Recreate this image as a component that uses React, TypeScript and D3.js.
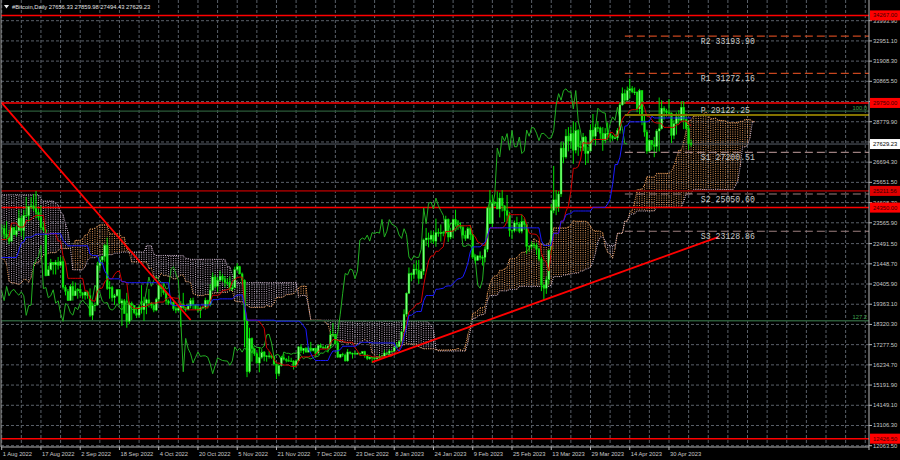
import React from 'react';
import * as d3 from 'd3';

// daily bars, first one on 16 May 2022 (needed for the Ichimoku warm-up)
const firstBar = '2022-05-16';
const firstOpen = 31300;

const closes = [
  29860, 30420, 28720, 30300, 29200, 29430, 30290, 29100, 29650, 29540, 29200, 28630, 29030, 29470, 31730, 31800,
  29800, 30450, 29700, 29860, 29900, 31370, 31130, 30200, 30110, 29080, 28400, 26570, 22490, 22140, 22570, 20380, 20470, 19000, 20550, 20700, 20720, 19980, 21100, 21230, 21500, 21030, 20740, 20260, 20100, 19930,
  19280, 19300, 19310, 20210, 20180, 20550, 21620, 21590, 21580, 20850, 19960, 19330, 20220, 20590, 20830, 21190, 20800, 22430, 23410, 23220, 23160, 22680, 22450, 22580, 21300, 21250, 22950, 23850, 23780, 23640, 23300,
  23270, 22980, 22820, 22620, 23310, 22950, 23170, 23810, 23160, 23950, 23940, 24400, 24440, 24300, 24100, 23850, 23340, 23200, 20830, 21140, 21520, 21400, 21530, 21370, 21560, 20240, 20030, 19550, 20280, 19800, 20050,
  20130, 19950, 19830, 20000, 19800, 18790, 19290, 19320, 21360, 21650, 21830, 22400, 20170, 20230, 19700, 19800, 20110, 19420, 19540, 18880, 18480, 19400, 19300, 18920, 18800, 19220, 19080, 19420, 19590, 19420,
  19310, 19060, 19620, 20340, 20160, 19960, 19530, 19420, 19450, 19130, 19060, 19150, 19380, 19180, 19070, 19270, 19550, 19330, 19130, 19040, 19170, 19210, 19570, 19330, 20090, 20770, 20290, 20600, 20810, 20630, 20490,
  20480, 20150, 20210, 21150, 21300, 20930, 20600, 18550, 15880, 17600, 17070, 16810, 16330, 16620, 16900, 16670, 16700, 16700, 16630, 16280, 15780, 16200, 16600, 16520, 16460, 16440, 16430, 16210, 16440, 17160,
  16970, 17090, 16890, 17110, 16970, 17090, 16840, 17230, 17130, 17130, 17090, 17210, 17780, 17810, 17360, 16630, 16780, 16740, 16440, 16900, 16830, 16830, 16780, 16840, 16830, 16920, 16700, 16550, 16630, 16600, 16540,
  16610, 16680, 16670, 16850, 16830, 16950, 16940, 17120, 17180, 17440, 17940, 18850, 19930, 20950, 20880, 21180, 21130, 20680, 21070, 22680, 22780, 22710, 22930, 22620, 23060, 23010, 23080, 23030, 23740, 22830, 23130,
  23730, 23490, 23430, 23330, 22930, 22760, 23260, 22960, 21800, 21630, 21860, 21780, 21780, 22200, 24330, 23520, 24570, 24630, 24280, 24840, 24440, 24190, 23950, 23180, 23160, 23560, 23490, 23130,
  23640, 23470, 22360, 22350, 22430, 22410, 22200, 21700, 20360, 20190, 20620, 22150, 24200, 24750, 24390, 25050, 27420, 26960, 28040, 27780, 28170, 27310, 28330, 27490, 27490, 27990, 27140, 27270, 28350, 28030, 28480,
  28460, 28190, 27810, 28170, 28180, 28040, 27920, 27950, 28330, 29650, 30230, 29890, 30390, 30480, 30320, 30320, 29440, 30390, 28820, 28250, 27270, 27820, 27590, 27510, 28300, 28420, 29480, 29340, 29250, 29230,
  28070, 28680, 29030, 28850, 29530, 28900, 28430, 27656, 27629.23,
];

const highs = [
  31300, 30700, 30650, 30530, 30760, 29600, 30480, 30650, 29840, 30200, 29850, 29370, 29200, 29560, 31950, 32400,
  31980, 30650, 30680, 29950, 30150, 31750, 31550, 31330, 30650, 30350, 29420, 28580, 26880, 23300, 22700, 22950, 21340, 20800, 20800, 21050, 21720, 20860, 21200, 21560, 21570, 21820, 21500, 21170, 20400, 20150,
  20870, 19420, 19640, 20300, 20700, 20650, 21800, 22500, 21950, 21600, 20880, 20030, 20250, 20880, 21180, 21570, 21650, 22720, 23770, 24280, 23420, 23750, 22990, 22980, 22660, 21350, 23100, 24200, 24450, 24650, 24190,
  23500, 23450, 23650, 23200, 23450, 23350, 23400, 24240, 23930, 24230, 24900, 24450, 24880, 25050, 25210, 24250, 24450, 23600, 23200, 21350, 21700, 21520, 21650, 21800, 21800, 21850, 20350, 20150, 20400, 20550, 20480,
  20200, 20440, 20000, 20000, 20050, 20180, 19450, 19450, 21550, 21800, 21850, 22480, 22800, 20550, 20320, 19900, 20150, 20120, 19650, 19630, 19950, 19500, 19500, 19320, 19200, 19300, 20350, 19750, 19650, 20150,
  19480, 19400, 19700, 20450, 20350, 20450, 20050, 19600, 19550, 19520, 19250, 19220, 19520, 19950, 19230, 19400, 19680, 19700, 19350, 19350, 19250, 19250, 19700, 19600, 20400, 21000, 20870, 20750, 21080, 20930, 20820,
  20700, 20800, 20400, 21300, 21480, 21350, 21000, 20650, 18600, 18150, 17650, 17080, 16880, 17150, 17050, 16950, 16740, 16950, 16800, 16700, 16300, 16250, 16700, 16800, 16590, 16700, 16600, 16480, 16520, 17200,
  17300, 17100, 17150, 17200, 17420, 17100, 17130, 17300, 17340, 17230, 17260, 17240, 18000, 18400, 17850, 17530, 16800, 16860, 16820, 17050, 16920, 16870, 16950, 16870, 16860, 16930, 16960, 16780, 16660, 16650, 16640,
  16630, 16780, 16760, 16990, 16880, 17040, 16960, 17150, 17390, 17490, 17990, 19100, 19970, 21260, 21000, 21450, 21630, 21650, 21190, 22750, 23300, 23060, 23170, 23120, 23780, 23280, 23480, 23160, 23930, 23790, 23310,
  23800, 24240, 23710, 23590, 23440, 23160, 23350, 23450, 22990, 21940, 21890, 22090, 21890, 22320, 24380, 25250, 25020, 24700, 25190, 25120, 25250, 24470, 25000, 24130, 23220, 23680, 23880, 23600,
  24000, 23790, 23480, 22420, 22600, 22550, 22530, 22270, 21800, 20370, 20800, 22200, 24550, 26500, 25250, 25200, 27750, 27720, 28400, 28500, 28500, 28800, 28750, 28400, 27800, 28200, 28050, 27500, 28650, 29180, 28650,
  28800, 28530, 28500, 28450, 28750, 28200, 28100, 28150, 28450, 29770, 30550, 30450, 30600, 31000, 30620, 30550, 30320, 30480, 30400, 29100, 28370, 27870, 27820, 28000, 28400, 30030, 29890, 29580, 29450, 29950,
  29260, 28880, 29260, 29380, 29850, 29830, 29200, 28630, 27859.98,
];

const lows = [
  29100, 29450, 28700, 28680, 28730, 28950, 29240, 28880, 28560, 29300, 28020, 28270, 28500, 28800, 29300, 31200,
  29300, 29580, 29300, 29500, 29500, 29880, 29220, 29850, 29950, 28850, 28100, 26560, 22400, 20850, 20080, 20250, 20250, 17620, 17950, 19650, 20400, 19800, 19900, 20750, 20960, 21000, 20550, 20170, 19850, 18630,
  19000, 18990, 18780, 19070, 19300, 19770, 20250, 21200, 21320, 20650, 19900, 19250, 18900, 19620, 20400, 20500, 20760, 20760, 21600, 23000, 22350, 22550, 22000, 22270, 21250, 20750, 21050, 22600, 23450, 23500, 23250,
  22850, 22670, 22700, 22450, 22600, 22950, 22850, 23150, 22870, 22680, 23850, 23600, 24300, 24170, 23800, 23700, 23200, 23100, 20800, 20850, 21100, 20900, 20900, 21150, 21320, 20120, 19820, 19550, 19550, 19550, 19780,
  19650, 19770, 19650, 19600, 19650, 18700, 18550, 19000, 19300, 21100, 21400, 21560, 20100, 19650, 19500, 19330, 19750, 19350, 18250, 18900, 18150, 18350, 18550, 18850, 18650, 18680, 18880, 18500, 18850, 19200,
  19150, 18950, 19000, 19500, 19750, 19850, 19350, 19320, 19330, 19030, 18900, 18980, 18200, 19100, 18980, 19060, 19150, 19100, 19080, 18950, 18650, 19110, 19080, 19150, 19250, 20060, 20200, 20000, 20550, 20530, 20250,
  20350, 20080, 20050, 20180, 21080, 20900, 20400, 17150, 15600, 15800, 16400, 16700, 16300, 15850, 16550, 16420, 16400, 16560, 16550, 16200, 15500, 15650, 16150, 16460, 16360, 16400, 16400, 15990, 16110, 16430,
  16850, 16800, 16880, 16880, 16880, 16920, 16680, 16740, 17100, 17090, 17070, 16870, 17080, 17670, 17280, 16600, 16580, 16650, 16400, 16400, 16770, 16560, 16780, 16790, 16720, 16790, 16600, 16480, 16500, 16330, 16490,
  16500, 16550, 16600, 16650, 16750, 16690, 16900, 16910, 17100, 17150, 17310, 17910, 18720, 19890, 20550, 20650, 20900, 20410, 20660, 20870, 22370, 22300, 22520, 22470, 22330, 22850, 22600, 22870, 23010, 22580, 22720,
  22760, 23370, 23200, 23260, 22750, 22630, 22750, 22680, 21690, 21460, 21600, 21630, 21360, 21530, 22050, 23550, 23340, 24430, 24260, 23840, 24150, 23600, 23620, 22850, 22720, 23070, 23120, 23030,
  23020, 23200, 21970, 22080, 22200, 22260, 21920, 21580, 20040, 19550, 19900, 20390, 21900, 24060, 23960, 24130, 24900, 26640, 26880, 27250, 27370, 26610, 27150, 27020, 27250, 27400, 26550, 26650, 27250, 27720, 27550,
  28250, 27870, 27280, 27670, 27830, 27720, 27800, 27880, 27810, 28170, 29610, 29700, 29870, 29970, 30250, 30160, 29270, 29100, 28600, 28010, 27130, 27180, 27330, 26950, 27200, 27250, 28380, 28890, 29040, 29090,
  27680, 27880, 28120, 28680, 28820, 28400, 28380, 27330, 27494.43,
];

const titleOHLC = ['27656.33', '27859.98', '27494.43', '27629.23'];

const priceTicks = [
  '33993.90', '32951.10', '31908.30', '30865.50', '29822.70', '28779.90', '27737.10', '26694.30', '25651.50',
  '24608.70', '23565.90', '22491.50', '21448.70', '20405.90', '19363.10', '18320.30', '17277.50', '16234.70',
  '15191.90', '14149.10', '13106.30', '12063.50',
];

const timeTicks = [
  '2022-08-01', '2022-08-17', '2022-09-02', '2022-09-18', '2022-10-04', '2022-10-20', '2022-11-05', '2022-11-21',
  '2022-12-07', '2022-12-23', '2023-01-08', '2023-01-24', '2023-02-09', '2023-02-25', '2023-03-13', '2023-03-29',
  '2023-04-14', '2023-04-30',
];

const strongLevels = [34267, 29750, 24350, 12426.5];
const weakLevels = [25211.56];

const pivotNames = ['R2', 'R1', 'P', 'S1', 'S2', 'S3'];
const pivotValues = [33193.9, 31272.16, 29122.25, 27200.51, 25050.6, 23128.86];
const pivotStart = '2023-04-12';

const fiboNames = ['100.0', '127.2'];
const fiboValues = [29330, 18510];

const downTrendDates = ['2022-08-01', '2022-10-17'];
const downTrendPrices = [29750, 18550];
const upTrendDates = ['2022-12-30', '2023-05-20'];
const upTrendPrices = [16380, 22830];

const DAY = 864e5;
const PL = 1, PR = 869, PT = 0, PB = 447;

const App: React.FC = () => {
  const t0 = Date.parse(firstBar);
  const x = d3.scaleUtc()
    .domain([new Date(Date.parse('2022-08-01')), new Date(Date.parse('2023-04-30'))])
    .range([1.7, 669]);
  const y = d3.scaleLinear().domain([12063.5, 33993.9]).range([445.7, 20.7]);
  const xi = (i: number) => x(t0 + i * DAY);

  const bars = closes.map((c, i) => {
    const o = i ? closes[i - 1] : firstOpen;
    return { i, o, c, h: Math.max(highs[i], o, c), l: Math.min(lows[i], o, c) };
  });
  const n = bars.length;

  // Ichimoku 9/26/52
  const mid = (i: number, p: number) => {
    if (i < p - 1) return null;
    const s = bars.slice(i - p + 1, i + 1);
    return ((d3.max(s, b => b.h) as number) + (d3.min(s, b => b.l) as number)) / 2;
  };
  const tenkan = bars.map(b => mid(b.i, 9));
  const kijun = bars.map(b => mid(b.i, 26));
  const cloud: { i: number; a: number; b: number }[] = [];
  bars.forEach((b, i) => {
    const t = tenkan[i], k = kijun[i], s = mid(i, 52);
    if (t != null && k != null && s != null) cloud.push({ i: i + 26, a: (t + k) / 2, b: s });
  });
  const chikou = bars.map(b => ({ i: b.i - 26, v: b.c }));

  const lineOf = (pts: { i: number; v: number | null }[]) =>
    d3.line<{ i: number; v: number | null }>()
      .defined(d => d.v != null)
      .x(d => xi(d.i))
      .y(d => y(d.v as number))(pts) || '';

  const gridDays = d3.range(0, 46).map(k => Date.parse('2022-08-01') + k * 8 * DAY);
  const fmt = d3.utcFormat('%-d %b %Y');
  const gridColor = '#5a6069';
  const axisFont = { fontFamily: 'Liberation Sans, Arial, sans-serif', fontSize: 5.8, fill: '#c8c8c8' };
  const lastPrice = closes[n - 1];
  const px = x(Date.parse(pivotStart));

  // price labels hidden under the level boxes, as the terminal does
  const boxed = [...strongLevels, ...weakLevels, lastPrice];
  const visibleTicks = priceTicks.filter(t => boxed.every(v => Math.abs(y(v) - y(+t)) > 4));

  const trend = (dates: string[], prices: number[]) => (
    <line x1={x(Date.parse(dates[0]))} y1={y(prices[0])} x2={x(Date.parse(dates[1]))} y2={y(prices[1])}
      stroke="#ff0000" strokeWidth={1.8} />
  );

  return (
    <div>
      <style>{'html,body{margin:0;padding:0;background:#000;}'}</style>
      <svg width={900} height={460} style={{ display: 'block', background: '#000' }}>
        <defs>
          <clipPath id="plot"><rect x={PL} y={PT} width={PR - PL} height={PB - PT} /></clipPath>
        </defs>

        {/* grid */}
        {priceTicks.map(t => (
          <line key={'h' + t} x1={PL} x2={PR} y1={y(+t)} y2={y(+t)} stroke={gridColor} strokeDasharray="3,2" />
        ))}
        {gridDays.filter(d => x(d) < PR).map(d => (
          <line key={'v' + d} x1={x(d)} x2={x(d)} y1={PT} y2={PB} stroke={gridColor} strokeDasharray="3,2" />
        ))}

        <g clipPath="url(#plot)">
          {/* Kumo, dotted histogram */}
          {cloud.map(c => (
            <line key={'k' + c.i} x1={xi(c.i)} x2={xi(c.i)} y1={y(c.a)} y2={y(c.b)}
              stroke={c.a >= c.b ? '#f4a460' : '#d8bfd8'} strokeWidth={0.9} strokeDasharray="1,1.2" />
          ))}
          <path d={lineOf(cloud.map(c => ({ i: c.i, v: c.a })))} fill="none" stroke="#f4a460" strokeWidth={1} strokeDasharray="1,1.2" />
          <path d={lineOf(cloud.map(c => ({ i: c.i, v: c.b })))} fill="none" stroke="#d8bfd8" strokeWidth={1} strokeDasharray="1,1.2" />

          {/* horizontal levels */}
          {strongLevels.map(v => (
            <line key={'s' + v} x1={PL} x2={PR} y1={y(v)} y2={y(v)} stroke="#ff0000" strokeWidth={1.5} />
          ))}
          {weakLevels.map(v => (
            <line key={'w' + v} x1={PL} x2={PR} y1={y(v)} y2={y(v)} stroke="#8b0000" strokeWidth={1.8} />
          ))}
          {fiboValues.map((v, k) => (
            <g key={'f' + k}>
              <line x1={PL} x2={PR} y1={y(v)} y2={y(v)} stroke="#2b5a38" strokeWidth={1.4} />
              <text x={PR - 2} y={y(v) - 1.5} textAnchor="end" fontFamily="Liberation Sans, Arial, sans-serif"
                fontSize={5.8} fill="#3ea04e">{fiboNames[k]}</text>
            </g>
          ))}
          <line x1={PL} x2={PR} y1={y(lastPrice)} y2={y(lastPrice)} stroke="#5b626b" strokeWidth={1} />

          {/* chikou */}
          <path d={lineOf(chikou)} fill="none" stroke="#22b022" strokeWidth={1} />

          {/* candles */}
          {bars.filter(b => xi(b.i) > -4).map(b => {
            const cx = xi(b.i);
            const top = y(Math.max(b.o, b.c));
            const hgt = Math.max(0.8, Math.abs(y(b.o) - y(b.c)));
            return (
              <g key={'c' + b.i}>
                <line x1={cx} x2={cx} y1={y(b.h)} y2={y(b.l)} stroke="#00e000" strokeWidth={1} />
                <rect x={cx - 0.95} y={top} width={1.9} height={hgt}
                  fill={b.c >= b.o ? '#7dff7d' : '#19e619'} stroke="#00d800" strokeWidth={0.4} />
              </g>
            );
          })}

          {/* tenkan / kijun */}
          <path d={lineOf(tenkan.map((v, i) => ({ i, v })))} fill="none" stroke="#d00000" strokeWidth={1} />
          <path d={lineOf(kijun.map((v, i) => ({ i, v })))} fill="none" stroke="#1a1aff" strokeWidth={1} />

          {/* trend lines */}
          {trend(downTrendDates, downTrendPrices)}
          {trend(upTrendDates, upTrendPrices)}

          {/* pivots */}
          {pivotValues.map((v, k) => {
            const name = pivotNames[k];
            const isP = name === 'P';
            const col = isP ? '#857400' : name[0] === 'R' ? '#c8461e' : '#9c7f7f';
            return (
              <g key={'p' + name}>
                <line x1={px} x2={PR} y1={y(v)} y2={y(v)} stroke={col} strokeWidth={isP ? 2 : 1.2}
                  strokeDasharray={isP ? undefined : '8,4'} />
                <text x={px + 76} y={isP ? y(v) - 2.5 : y(v) + 8} fontFamily="Liberation Mono, monospace"
                  fontSize={8.2} fill="#c8c8c8">{name + ' ' + v.toFixed(2)}</text>
              </g>
            );
          })}
        </g>

        {/* frame */}
        <line x1={PL} x2={PL} y1={PT} y2={PB} stroke="#9a9a9a" />
        <line x1={PR} x2={PR} y1={PT} y2={PB + 3} stroke="#b4b4b4" />
        <line x1={PL} x2={PR} y1={PB} y2={PB} stroke="#b4b4b4" />

        {/* price axis */}
        {priceTicks.map(t => (
          <line key={'pk' + t} x1={PR} x2={PR + 3} y1={y(+t)} y2={y(+t)} stroke="#b4b4b4" />
        ))}
        {visibleTicks.map(t => (
          <text key={'pt' + t} x={873} y={y(+t) + 2} {...axisFont}>{t}</text>
        ))}
        {[...strongLevels, ...weakLevels].map(v => (
          <g key={'lb' + v}>
            <rect x={PR + 1} y={y(v) - 5} width={31} height={10} fill={weakLevels.includes(v) ? '#e00000' : '#ff0000'} />
            <text x={873} y={y(v) + 2} {...axisFont} fill="#3a0000">{v.toFixed(2)}</text>
          </g>
        ))}
        <rect x={PR + 1} y={y(lastPrice) - 5} width={31} height={10} fill="#ffffff" />
        <text x={873} y={y(lastPrice) + 2} {...axisFont} fill="#000">{lastPrice.toFixed(2)}</text>

        {/* time axis */}
        {timeTicks.map(d => {
          const tx = x(Date.parse(d));
          return (
            <g key={'tt' + d}>
              <line x1={tx} x2={tx} y1={PB} y2={PB + 3} stroke="#b4b4b4" />
              <text x={tx + 1} y={456} {...axisFont}>{fmt(new Date(Date.parse(d)))}</text>
            </g>
          );
        })}

        {/* title */}
        <path d="M4,5 L9,5 L6.5,8.5 Z" fill="#e8e8e8" />
        <text x={12} y={9} {...axisFont} fill="#e0e0e0">
          {'#Bitcoin,Daily  ' + titleOHLC.join(' ')}
        </text>
      </svg>
    </div>
  );
};

export default App;
